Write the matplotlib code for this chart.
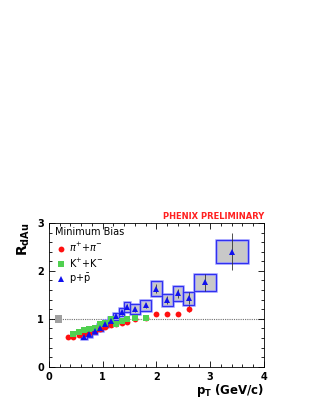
import matplotlib.pyplot as plt
from matplotlib.patches import Rectangle
from matplotlib.ticker import MultipleLocator

# pi+ + pi-
pt_pi = [0.35, 0.45, 0.55, 0.65, 0.75, 0.85, 0.95, 1.05, 1.15, 1.25, 1.35, 1.45, 1.6, 1.8, 2.0, 2.2, 2.4, 2.6]
r_pi = [0.62, 0.63, 0.66, 0.68, 0.71, 0.75, 0.79, 0.84, 0.88, 0.89, 0.91, 0.94, 0.99, 1.02, 1.10, 1.10, 1.10, 1.21]
err_pi = [0.02, 0.02, 0.02, 0.02, 0.02, 0.02, 0.02, 0.02, 0.02, 0.02, 0.02, 0.02, 0.03, 0.03, 0.04, 0.04, 0.05, 0.07]

# K+ + K-
pt_k = [0.45, 0.55, 0.65, 0.75, 0.85, 0.95, 1.05, 1.15, 1.25, 1.35, 1.45, 1.6, 1.8]
r_k = [0.68, 0.72, 0.76, 0.78, 0.82, 0.89, 0.92, 0.99, 0.90, 0.95, 0.99, 1.01, 1.01]

# p + pbar
pt_p = [0.65, 0.75, 0.85, 0.95, 1.05, 1.15, 1.25, 1.35, 1.45, 1.6, 1.8, 2.0, 2.2, 2.4, 2.6, 2.9, 3.4]
r_p = [0.63, 0.68, 0.74, 0.82, 0.90, 0.96, 1.05, 1.14, 1.25, 1.20, 1.28, 1.63, 1.39, 1.53, 1.43, 1.76, 2.40]
err_p = [0.02, 0.02, 0.02, 0.02, 0.03, 0.03, 0.04, 0.05, 0.05, 0.05, 0.06, 0.10, 0.08, 0.10, 0.12, 0.18, 0.39]
box_lo = [0.6, 0.7, 0.8, 0.9, 1.0, 1.1, 1.2, 1.3, 1.4, 1.5, 1.7, 1.9, 2.1, 2.3, 2.5, 2.7, 3.1]
box_hi = [0.7, 0.8, 0.9, 1.0, 1.1, 1.2, 1.3, 1.4, 1.5, 1.7, 1.9, 2.1, 2.3, 2.5, 2.7, 3.1, 3.7]
sys_p = [0.05, 0.05, 0.06, 0.07, 0.07, 0.08, 0.08, 0.09, 0.10, 0.10, 0.11, 0.15, 0.13, 0.15, 0.14, 0.18, 0.24]

fig = plt.figure(figsize=(3.16, 4.09), dpi=100)
ax = fig.add_axes([0.155, 0.103, 0.68, 0.352])

# systematic boxes for protons
for lo, hi, y, s in zip(box_lo, box_hi, r_p, sys_p):
    ax.add_patch(Rectangle((lo, y - s), hi - lo, 2 * s, facecolor='#c8c8c8',
                           edgecolor='#9a9aff', linewidth=1.8, zorder=2))
for lo, hi, y, s in zip(box_lo, box_hi, r_p, sys_p):
    ax.add_patch(Rectangle((lo, y - s), hi - lo, 2 * s, facecolor='none',
                           edgecolor='#3030f0', linewidth=0.8, zorder=2.1))

# normalisation box
ax.add_patch(Rectangle((0.11, 0.92), 0.14, 0.16, facecolor='#a0a0a0', edgecolor='none', zorder=2))
ax.axhline(1.0, color='#707070', linestyle=(0, (1, 1)), linewidth=0.8, zorder=1)

ax.errorbar(pt_p, r_p, yerr=err_p, fmt='none', ecolor='#333333', elinewidth=0.6, zorder=3)
ax.errorbar(pt_pi, r_pi, yerr=err_pi, fmt='none', ecolor='#333333', elinewidth=0.6, zorder=3)
ax.plot(pt_pi, r_pi, 'o', color='#ff1010', markersize=4.2, markeredgewidth=0, zorder=4, label=r'$\pi^{+}$+$\pi^{-}$')
ax.plot(pt_k, r_k, 's', color='#50d050', markersize=4.0, markeredgewidth=0, zorder=5, label=r'K$^{+}$+K$^{-}$')
ax.plot(pt_p, r_p, '^', color='#1010ee', markersize=4.4, markeredgewidth=0, zorder=6, label=r'p+$\bar{\rm p}$')

ax.set_xlim(0, 4)
ax.set_ylim(0, 3)
ax.xaxis.set_major_locator(MultipleLocator(1))
ax.xaxis.set_minor_locator(MultipleLocator(0.2))
ax.yaxis.set_major_locator(MultipleLocator(1))
ax.yaxis.set_minor_locator(MultipleLocator(0.2))
ax.tick_params(which='both', direction='in', top=True, right=True, labelsize=7, width=0.6)
ax.tick_params(which='major', length=4)
ax.tick_params(which='minor', length=2)
for lab in ax.get_xticklabels() + ax.get_yticklabels():
    lab.set_fontweight('bold')
for sp in ax.spines.values():
    sp.set_linewidth(0.6)

ax.set_xlabel(r'p$_{\mathbf{T}}$ (GeV/c)', fontsize=8.5, fontweight='bold', loc='right', labelpad=0)
ax.set_ylabel(r'R$_{\mathbf{dAu}}$', fontsize=10, fontweight='bold', loc='top', labelpad=4)

ax.text(0.03, 0.975, 'Minimum Bias', transform=ax.transAxes, fontsize=7, va='top', ha='left')
ax.legend(loc='upper left', bbox_to_anchor=(0.0, 0.915), frameon=False, fontsize=7,
          handletextpad=0.2, labelspacing=0.25, handlelength=1.3, borderaxespad=0.2, markerscale=1.0)
ax.text(1.0, 1.01, 'PHENIX PRELIMINARY', transform=ax.transAxes, fontsize=6,
        color='#ff2020', fontweight='bold', ha='right', va='bottom')

fig.savefig('out.png', dpi=100)
